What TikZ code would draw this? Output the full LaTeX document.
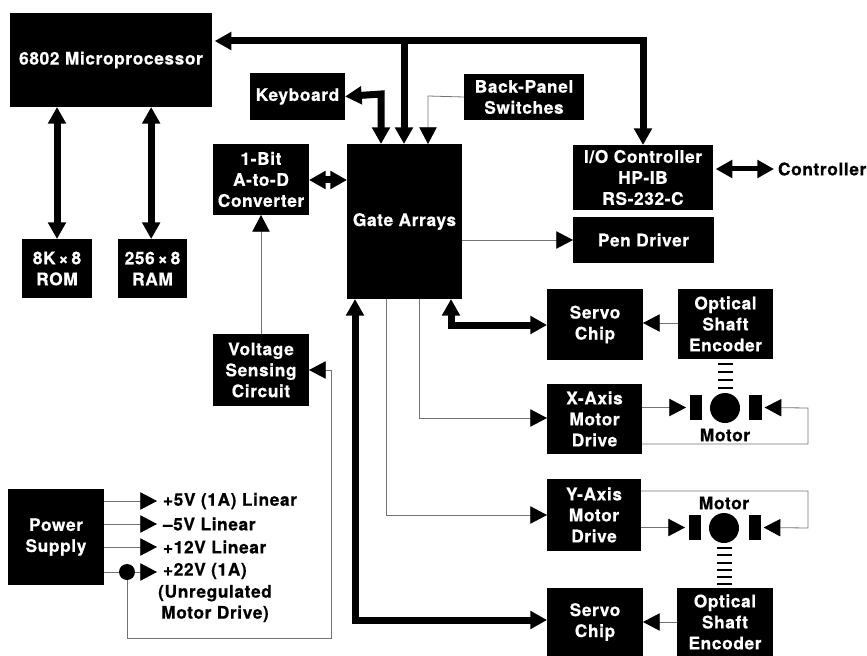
\documentclass[tikz,border=0pt]{standalone}
\usepackage{fontspec}
\setmainfont[LetterSpace=3.5,BoldFeatures={FakeBold=0.6}]{TeX Gyre Heros}
\usetikzlibrary{arrows.meta}
\tikzset{
  bighead/.tip={Triangle[length=12.5pt,width=13pt,color=black]},
  box/.style={fill=black,text=white,inner sep=0pt,outer sep=0pt,align=center},
  lab/.style={text=black,inner sep=0pt,outer sep=0pt,align=center},
  bus/.style={line width=5.25pt,draw=black,arrows={-bighead}},
  dbus/.style={line width=5.25pt,draw=black,arrows={bighead-bighead}},
  sig/.style={line width=0.6pt,draw=black!55,arrows={-bighead}},
  wire/.style={line width=0.6pt,draw=black!55},
  tick/.style={line width=1.9pt,draw=black}
}
\newcommand{\bx}[6]{\node[box,minimum width={(#4-#2)*0.75pt},minimum height={(#5-#3)*0.75pt}] (#1) at ({(#2+#4)/2},{(#3+#5)/2}) {#6};}
\begin{document}
\begin{tikzpicture}[x=0.75pt,y=-0.75pt,font=\fontsize{13}{15.75}\selectfont\bfseries]
\useasboundingbox (0,0) rectangle (867,656);
% boxes
\bx{micro}{10}{13}{212}{107}{6802 Microprocessor}
\bx{rom}{22}{239}{92}{298}{8K\,×\,8\\ROM}
\bx{ram}{118}{239}{187}{298}{256\,×\,8\\RAM}
\bx{kbd}{250}{73}{345}{120}{Keyboard}
\bx{back}{464}{74}{584}{120}{Back-Panel\\Switches}
\bx{adc}{213}{144}{309}{215}{1-Bit\\A-to-D\\Converter}
\bx{gate}{347}{144}{462}{299}{Gate Arrays}
\bx{io}{573}{145}{713}{210}{I/O Controller\\HP-IB\\RS-232-C}
\bx{pen}{573}{217}{714}{263}{Pen Driver}
\bx{servoa}{547}{289}{643}{360}{Servo\\Chip}
\bx{enca}{678}{289}{773}{359}{Optical\\Shaft\\Encoder}
\bx{xdrv}{547}{384}{642}{454}{X-Axis\\Motor\\Drive}
\bx{ydrv}{547}{479}{641}{551}{Y-Axis\\Motor\\Drive}
\bx{servob}{547}{588}{643}{656}{Servo\\Chip}
\bx{encb}{677}{588}{773}{656}{Optical\\Shaft\\Encoder}
\bx{volt}{213}{334}{309}{406}{Voltage\\Sensing\\Circuit}
\bx{power}{8}{489}{104}{585}{Power\\Supply}
% motors
\node[circle,fill=black,inner sep=0pt,minimum size=22.5pt] (xm) at (725,408) {};
\bx{xl}{690}{395}{702}{420}{}
\bx{xr}{749}{395}{762}{420}{}
\node[circle,fill=black,inner sep=0pt,minimum size=22.5pt] (ym) at (724,528) {};
\bx{yl}{689}{515}{701}{540}{}
\bx{yr}{749}{515}{761}{540}{}
\node[lab] (xlab) at (725,435) {Motor};
\node[lab] (ylab) at (724,503) {Motor};
% encoder ticks
\foreach \y in {364,372,380,388} \draw[tick] (718,\y) -- (733,\y);
\foreach \y in {548,555,563,570,577,584} \draw[tick] (717,\y) -- (732,\y);
% outside labels
\node[lab,anchor=west] (ctl) at (778,169) {Controller};
\node[lab,anchor=west] (v5) at (163,501) {+5V (1A) Linear};
\node[lab,anchor=west] (vm5) at (163,524) {–5V Linear};
\node[lab,anchor=west] (v12) at (163,547) {+12V Linear};
\node[lab,anchor=west] (v22) at (163,571) {+22V (1A)};
\node[lab,anchor=north] (v22b) at (215,585) {(Unregulated\\Motor Drive)};
\node[circle,fill=black,inner sep=0pt,minimum size=12pt] (dot) at (127,572) {};
% routing points
\coordinate (gkb) at (381,144);
\coordinate (gbus) at (404,144);
\coordinate (gback) at (428,144);
\coordinate (gb1) at (355,299);
\coordinate (gb2) at (386,299);
\coordinate (gb3) at (419,299);
\coordinate (gb4) at (451,299);
\coordinate (top) at (404,41);
\coordinate (iotop) at (643,145);
\coordinate (microeast) at (212,41);
\coordinate (xloop) at (808,444);
\coordinate (yloop) at (808,491);
\coordinate (vloop) at (331,638);
% thick buses
\draw[dbus] (rom.north) -- (rom.north |- micro.south);
\draw[dbus] ([xshift=-1pt]ram.north) -- ([xshift=-1pt]ram.north |- micro.south);
\draw[dbus] ([xshift=2pt]microeast) -- (643,41) -- (iotop);
\draw[bus] (top) -- (gbus);
\draw[dbus] (kbd.east) -- (381,94) -- (gkb);
\draw[dbus] (adc.east |- 0,180) -- (gate.west |- 0,180);
\draw[dbus,line width=3.75pt] ([xshift=2pt]io.east |- ctl.west) -- ([xshift=-3pt]ctl.west);
\draw[dbus] (gb1) -- (355,620) -- (servob.west |- 0,620);
\draw[dbus] (gb4) -- (451,325) -- (servoa.west |- 0,325);
% thin connections
\draw[sig] (back.west) -- (428,96) -- (gback);
\draw[sig] (gate.east |- pen.west) -- (pen.west);
\draw[sig] (volt.north) -- (adc.south);
\draw[sig] (gb3) |- (xdrv.west |- 0,418);
\draw[sig] (gb2) |- (ydrv.west |- 0,515);
\draw[sig] (enca.west |- 0,323) -- (servoa.east |- 0,323);
\draw[sig] (encb.west |- 0,622) -- (servob.east |- 0,622);
\draw[sig,shorten >=3pt] (xdrv.east |- xl.west) -- (xl.west);
\draw[sig] (xdrv.east |- xloop) -- (xloop) -- (808,408) -- ([xshift=2pt]xr.east);
\draw[sig,shorten >=3pt] (ydrv.east |- yl.west) -- (yl.west);
\draw[sig] (ydrv.east |- yloop) -- (yloop) -- (808,528) -- ([xshift=2pt]yr.east);
\draw[sig,shorten >=4.5pt] (power.east |- v5.west) -- (v5.west);
\draw[sig,shorten >=4.5pt] (power.east |- vm5.west) -- (vm5.west);
\draw[sig,shorten >=4.5pt] (power.east |- v12.west) -- (v12.west);
\draw[wire] (power.east |- dot) -- (dot);
\draw[sig,shorten >=4.5pt] (dot) -- (v22.west |- dot);
\draw[wire] (dot) |- (vloop) -- (331,370);
\draw[sig] (331,370) -- (volt.east);
\end{tikzpicture}
\end{document}
